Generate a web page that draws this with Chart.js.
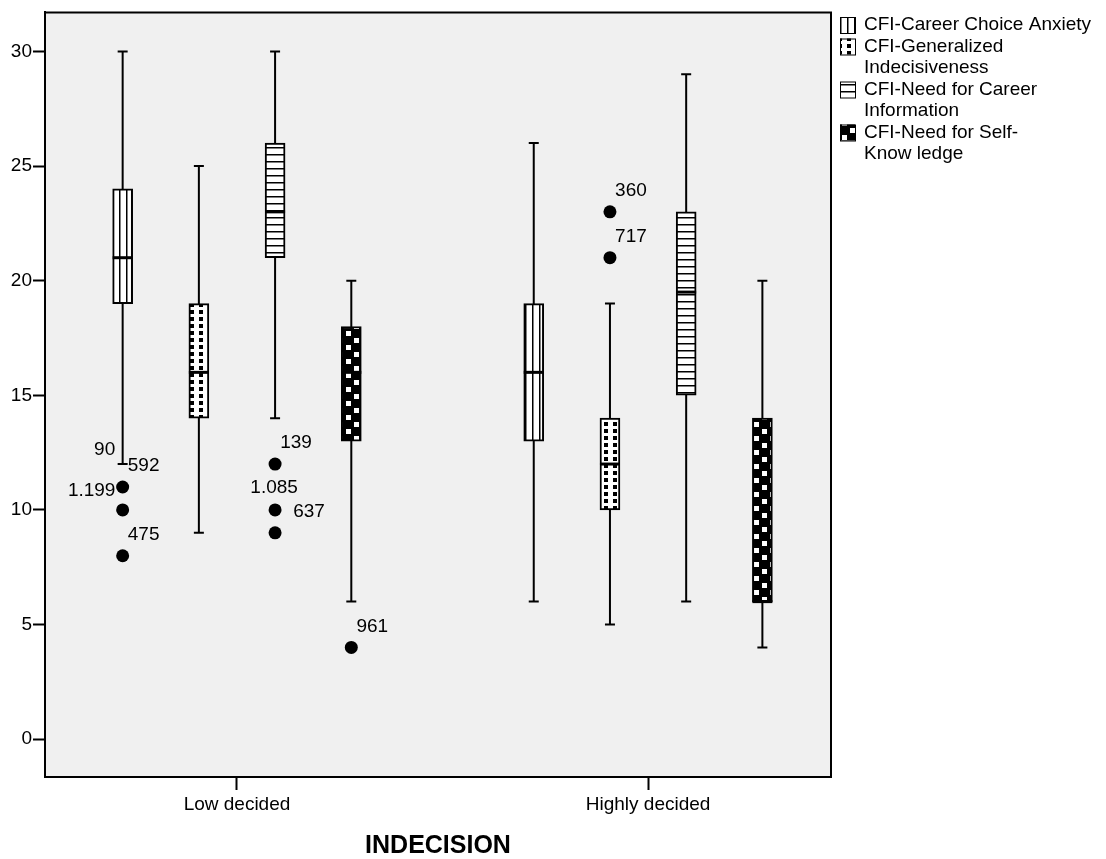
<!DOCTYPE html>
<html>
<head>
<meta charset="utf-8">
<script src="https://cdn.jsdelivr.net/npm/chart.js@4.4.0/dist/chart.umd.min.js"></script>
<style>
html, body { margin: 0; padding: 0; background: #fff; }
</style>
</head>
<body>
<canvas id="boxChart" width="1106" height="859"></canvas>
<script>
const groupLabels = ['Low decided', 'Highly decided'];
const seriesNames = [
    'CFI-Career Choice Anxiety',
    'CFI-Generalized Indecisiveness',
    'CFI-Need for Career Information',
    'CFI-Need for Self-Knowledge'
];
const legendLines = [
    ['CFI-Career Choice Anxiety'],
    ['CFI-Generalized', 'Indecisiveness'],
    ['CFI-Need for Career', 'Information'],
    ['CFI-Need for Self-', 'Know ledge']
];
const yTicks = [0, 5, 10, 15, 20, 25, 30];

// one row per series, columns = [Low decided, Highly decided]
const whiskerLow = [[12, 6], [9, 5], [14, 6], [6, 4]];
const boxLow = [[19, 13], [14, 10], [21, 15], [13, 6]];
const medians = [[21, 16], [16, 12], [23, 19.5], [16, 6]];
const boxHigh = [[24, 19], [19, 14], [26, 23], [18, 14]];
const whiskerHigh = [[30, 26], [25, 19], [30, 29], [20, 20]];

// outliers
const outlierSeries = [0, 0, 0, 2, 2, 2, 3, 1, 1];
const outlierGroup = [0, 0, 0, 0, 0, 0, 0, 1, 1];
const outlierValues = [11, 10, 8, 12, 10, 9, 4, 23, 21];
const outlierCases = [['90', '592'], ['1.199'], ['475'], ['139'], ['1.085'], ['637'], ['961'], ['360'], ['717']];

// where a case label sits relative to its dot (px)
const defaultLabelOffset = [21, -21];
const labelOffsets = { '90': [-18, -37], '1.199': [-31, -19], '1.085': [-1, -22], '637': [34, -21] };

const FONT = '"Liberation Sans", Arial, sans-serif';
const seriesGap = 0.1854;

function xPos(s, g) {
    return g + (s - 1.5) * seriesGap;
}

const canvas = document.getElementById('boxChart');
const mainCtx = canvas.getContext('2d');

function makePattern(kind) {
    const c = document.createElement('canvas');
    let w = 7, h = 7;
    if (kind === 'dots') { w = 9; h = 7; }
    if (kind === 'checks') { w = 16; h = 14; }
    c.width = w;
    c.height = h;
    const g = c.getContext('2d');
    g.fillStyle = kind === 'checks' ? '#000' : '#fff';
    g.fillRect(0, 0, w, h);
    if (kind === 'vlines') {
        g.fillStyle = '#000';
        g.fillRect(0, 0, 1.5, h);
    } else if (kind === 'hlines') {
        g.fillStyle = '#000';
        g.fillRect(0, 0, w, 1.5);
    } else if (kind === 'dots') {
        g.fillStyle = '#000';
        g.fillRect(1, 2, 4, 4);
    } else {
        g.fillStyle = '#fff';
        g.fillRect(2, 2, 5, 5);
        g.fillRect(10, 9, 5, 5);
    }
    return mainCtx.createPattern(c, 'repeat');
}

const patterns = [makePattern('vlines'), makePattern('dots'), makePattern('hlines'), makePattern('checks')];

const frame = {
    id: 'frame',
    beforeDraw(chart) {
        const a = chart.chartArea;
        const ctx = chart.ctx;
        ctx.save();
        ctx.fillStyle = '#f0f0f0';
        ctx.fillRect(a.left, a.top, a.right - a.left, a.bottom - a.top);
        ctx.restore();
    },
    afterDraw(chart) {
        const a = chart.chartArea;
        const ctx = chart.ctx;
        ctx.save();
        ctx.strokeStyle = '#000';
        ctx.lineWidth = 2;
        ctx.beginPath();
        ctx.moveTo(a.left, a.top);
        ctx.lineTo(a.right, a.top);
        ctx.lineTo(a.right, a.bottom);
        ctx.stroke();

        // legend
        ctx.font = '19px ' + FONT;
        ctx.fillStyle = '#000';
        ctx.textBaseline = 'middle';
        let line = 0;
        legendLines.forEach((lines, s) => {
            const y0 = 25 + line * 21.5;
            ctx.fillStyle = patterns[s];
            ctx.fillRect(840, y0 - 8, 15, 16);
            ctx.strokeStyle = '#000';
            ctx.lineWidth = 1;
            ctx.strokeRect(840.5, y0 - 7.5, 15, 16);
            ctx.fillStyle = '#000';
            lines.forEach(txt => {
                ctx.fillText(txt, 864, 25 + line * 21.5);
                line++;
            });
        });
        ctx.restore();
    }
};

const whiskers = {
    id: 'whiskers',
    beforeDatasetsDraw(chart) {
        const xs = chart.scales.x, ys = chart.scales.y;
        const ctx = chart.ctx;
        ctx.save();
        ctx.strokeStyle = '#000';
        ctx.lineWidth = 2;
        seriesNames.forEach((_, s) => {
            groupLabels.forEach((_, g) => {
                const x = xs.getPixelForValue(xPos(s, g));
                const lo = ys.getPixelForValue(whiskerLow[s][g]);
                const hi = ys.getPixelForValue(whiskerHigh[s][g]);
                ctx.beginPath();
                ctx.moveTo(x, lo);
                ctx.lineTo(x, hi);
                ctx.moveTo(x - 5, lo);
                ctx.lineTo(x + 5, lo);
                ctx.moveTo(x - 5, hi);
                ctx.lineTo(x + 5, hi);
                ctx.stroke();
            });
        });
        ctx.restore();
    },
    afterDatasetsDraw(chart) {
        const ys = chart.scales.y;
        const ctx = chart.ctx;
        ctx.save();
        ctx.strokeStyle = '#000';
        ctx.lineWidth = 3;
        seriesNames.forEach((_, s) => {
            const meta = chart.getDatasetMeta(s);
            meta.data.forEach((bar, g) => {
                const y = ys.getPixelForValue(medians[s][g]);
                ctx.beginPath();
                ctx.moveTo(bar.x - bar.width / 2, y);
                ctx.lineTo(bar.x + bar.width / 2, y);
                ctx.stroke();
            });
        });

        // case labels next to the outliers
        const pts = chart.getDatasetMeta(seriesNames.length).data;
        ctx.font = '19px ' + FONT;
        ctx.fillStyle = '#000';
        ctx.textAlign = 'center';
        ctx.textBaseline = 'middle';
        outlierCases.forEach((cases, i) => {
            const p = pts[i];
            cases.forEach(id => {
                const off = labelOffsets[id] || defaultLabelOffset;
                ctx.fillText(id, p.x + off[0], p.y + off[1]);
            });
        });
        ctx.restore();
    }
};

const boxSets = seriesNames.map((name, s) => ({
    type: 'bar',
    label: name,
    data: groupLabels.map((_, g) => ({ x: xPos(s, g), y: [boxLow[s][g], boxHigh[s][g]] })),
    backgroundColor: patterns[s],
    borderColor: '#000',
    borderWidth: 2,
    borderSkipped: false,
    barThickness: 20,
    grouped: false
}));

const outlierSet = {
    type: 'scatter',
    label: 'Outliers',
    data: outlierValues.map((v, i) => ({ x: xPos(outlierSeries[i], outlierGroup[i]), y: v })),
    pointRadius: 6.5,
    pointHoverRadius: 6.5,
    backgroundColor: '#000',
    borderWidth: 0
};

Chart.defaults.font.family = FONT;
Chart.defaults.color = '#000';

new Chart(canvas, {
    type: 'bar',
    data: { datasets: boxSets.concat([outlierSet]) },
    options: {
        responsive: false,
        animation: false,
        devicePixelRatio: 1,
        layout: { padding: { left: 0, top: 9, right: 275, bottom: 0 } },
        plugins: {
            legend: { display: false },
            tooltip: { enabled: false }
        },
        scales: {
            x: {
                type: 'linear',
                min: -0.467,
                max: 1.445,
                offset: false,
                afterBuildTicks: sc => { sc.ticks = groupLabels.map((_, g) => ({ value: g })); },
                afterFit: sc => { sc.height = 82; },
                ticks: {
                    callback: v => groupLabels[v] !== undefined ? groupLabels[v] : '',
                    font: { size: 19 },
                    color: '#000',
                    padding: 3,
                    maxRotation: 0,
                    autoSkip: false
                },
                grid: { drawOnChartArea: false, offset: false, tickLength: 13, tickWidth: 2, tickColor: '#000' },
                border: { color: '#000', width: 2 },
                title: {
                    display: true,
                    text: 'INDECISION',
                    color: '#000',
                    font: { size: 25, weight: 'bold', lineHeight: 1 },
                    padding: { top: 0, bottom: 0 }
                }
            },
            y: {
                type: 'linear',
                min: -1.65,
                max: 31.7,
                afterBuildTicks: sc => { sc.ticks = yTicks.map(v => ({ value: v })); },
                afterFit: sc => { sc.width = 45; },
                ticks: { font: { size: 19 }, color: '#000', padding: 1 },
                grid: { drawOnChartArea: false, tickLength: 12, tickWidth: 2, tickColor: '#000' },
                border: { color: '#000', width: 2 }
            }
        }
    },
    plugins: [frame, whiskers]
});
</script>
</body>
</html>
